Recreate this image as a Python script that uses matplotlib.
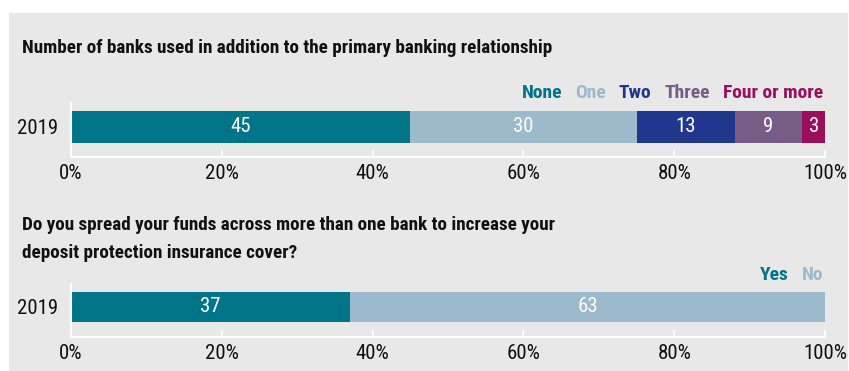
import matplotlib
matplotlib.use('Agg')
import matplotlib.pyplot as plt
from matplotlib.patches import Rectangle

plt.rcParams['font.family'] = ['Roboto Condensed', 'DejaVu Sans']

years = ['2019']

banks_labels = ['None', 'One', 'Two', 'Three', 'Four or more']
banks_values = [45, 30, 13, 9, 3]
banks_colors = ['#00758a', '#9bbacb', '#21378e', '#775c88', '#9a0e5b']

spread_labels = ['Yes', 'No']
spread_values = [37, 63]
spread_colors = ['#00758a', '#9bbacb']

ticks = [0, 20, 40, 60, 80, 100]
bg = '#e8e8e8'

W, H = 849, 371
fig = plt.figure(figsize=(W / 100, H / 100), dpi=100)
fig.patch.set_facecolor('white')
fig.add_artist(Rectangle((9 / W, 0), 839 / W, 1 - 13 / H, transform=fig.transFigure,
                         facecolor=bg, edgecolor='none', zorder=0))


def px(x, y):
    return x / W, 1 - y / H


def stacked(ax, values, colors, ylim):
    left = 0
    for v, c in zip(values, colors):
        ax.barh(0, v, left=left, height=0.8, color=c, edgecolor='none')
        ax.text(left + v / 2, 0, str(v), ha='center', va='center',
                color='white', fontsize=15)
        left += v
    ax.set_xlim(0, 100)
    ax.set_ylim(*ylim)
    ax.set_facecolor('none')
    for s in ['top', 'right']:
        ax.spines[s].set_visible(False)
    for s in ['left', 'bottom']:
        ax.spines[s].set_color('white')
        ax.spines[s].set_linewidth(1.5)
    ax.set_xticks(ticks)
    ax.set_xticklabels([f'{t}%' for t in ticks])
    ax.tick_params(axis='x', direction='in', length=5, width=1.2, color='white',
                   labelsize=15, labelcolor='#111111', pad=5)
    ax.set_yticks([0])
    ax.set_yticklabels(years)
    ax.tick_params(axis='y', length=0, labelsize=15, labelcolor='#111111', pad=9)


def legend_row(labels, colors, right, y):
    # lay the labels out right to left, each ending just before the previous one
    renderer = fig.canvas.get_renderer()
    x = right
    for lab, c in zip(reversed(labels), reversed(colors)):
        t = fig.text(*px(x, y), lab, ha='right', va='center', color=c,
                     fontsize=14, fontweight='bold')
        bb = t.get_window_extent(renderer)
        x = bb.x0 - 13


ax1 = fig.add_axes([71 / W, 1 - 157 / H, 754 / W, 54 / H])
stacked(ax1, banks_values, banks_colors, (-0.75, 0.6))

ax2 = fig.add_axes([71 / W, 1 - 337 / H, 754 / W, 53 / H])
stacked(ax2, spread_values, spread_colors, (-0.8, 0.613))

title_kw = dict(ha='left', va='center', fontsize=13.8, fontweight='bold', color='#111111')
fig.text(*px(22, 48), 'Number of banks used in addition to the primary banking relationship', **title_kw)
fig.text(*px(22, 225), 'Do you spread your funds across more than one bank to increase your', **title_kw)
fig.text(*px(22, 253), 'deposit protection insurance cover?', **title_kw)

legend_row(banks_labels, banks_colors, 823, 93)
legend_row(spread_labels, spread_colors, 823, 275)

fig.savefig('out.png', dpi=100, facecolor=fig.get_facecolor())
